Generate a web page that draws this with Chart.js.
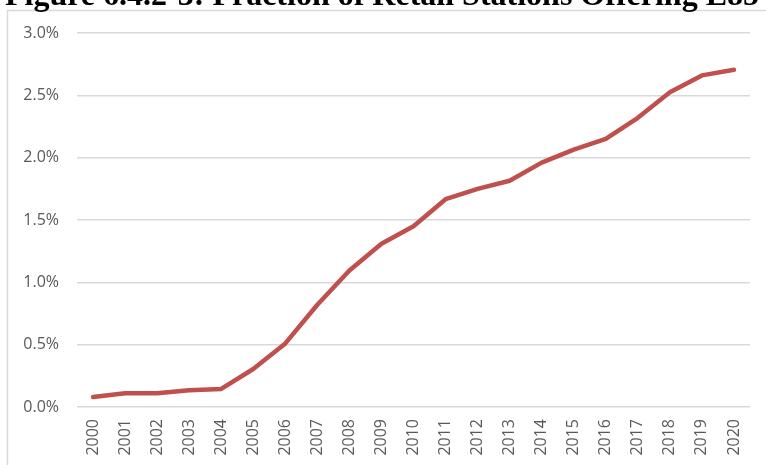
<!DOCTYPE html>
<html>
<head>
<meta charset="utf-8">
<script src="https://cdn.jsdelivr.net/npm/chart.js@4.4.1/dist/chart.umd.min.js"></script>
<style>
  html, body { margin: 0; padding: 0; background: #fff; }
  #wrap { position: relative; width: 766px; height: 465px; overflow: hidden; }
</style>
</head>
<body>
<div id="wrap"><canvas id="chart" width="766" height="465"></canvas></div>
<script>
// Fraction of retail stations offering E85, per year (percent)
const titleText = "Figure 6.4.2-3: Fraction of Retail Stations Offering E85";
const years = ["2000", "2001", "2002", "2003", "2004", "2005", "2006", "2007", "2008", "2009", "2010",
  "2011", "2012", "2013", "2014", "2015", "2016", "2017", "2018", "2019", "2020"];
const stationShare = [0.08, 0.11, 0.11, 0.135, 0.145, 0.305, 0.51, 0.82, 1.095, 1.31, 1.45,
  1.667, 1.75, 1.815, 1.96, 2.065, 2.15, 2.32, 2.525, 2.66, 2.705];
const yTicks = [0, 0.5, 1.0, 1.5, 2.0, 2.5, 3.0];

// cropped figure caption + chart frame, drawn behind the plot
const frameAndTitle = {
  id: "frameAndTitle",
  beforeDraw(chart) {
    const ctx = chart.ctx;
    ctx.save();
    ctx.fillStyle = "#fff";
    ctx.fillRect(0, 0, chart.width, chart.height);
    ctx.strokeStyle = "#d9d9d9";
    ctx.lineWidth = 1.5;
    ctx.beginPath();
    ctx.moveTo(7.5, chart.height + 5);
    ctx.lineTo(7.5, 10.5);
    ctx.lineTo(chart.width + 5, 10.5);
    ctx.stroke();
    ctx.fillStyle = "#000";
    ctx.font = "bold 32px 'Liberation Serif', 'Times New Roman', serif";
    ctx.textBaseline = "alphabetic";
    ctx.fillText(titleText, 5, 5);
    ctx.restore();
  },
};

const tickFont = { family: "'Open Sans', sans-serif", size: 16 };

new Chart(document.getElementById("chart"), {
  type: "line",
  data: {
    labels: years,
    datasets: [
      {
        data: stationShare,
        borderColor: "#c0504d",
        borderWidth: 4.5,
        borderCapStyle: "round",
        borderJoinStyle: "round",
        pointRadius: 0,
        tension: 0,
        fill: false,
      },
    ],
  },
  options: {
    responsive: false,
    animation: false,
    layout: { padding: { top: 33, right: 16, bottom: 0, left: 0 } },
    plugins: {
      legend: { display: false },
      tooltip: { enabled: false },
      title: { display: false },
    },
    scales: {
      x: {
        offset: true,
        grid: { display: false, drawTicks: false },
        border: { display: false },
        ticks: {
          font: tickFont,
          color: "#595959",
          minRotation: 90,
          maxRotation: 90,
          autoSkip: false,
          padding: 12,
        },
        afterFit: (scale) => { scale.height = 58; },
      },
      y: {
        min: 0,
        max: 3.0,
        afterBuildTicks: (scale) => { scale.ticks = yTicks.map((v) => ({ value: v })); },
        grid: { color: "#d9d9d9", lineWidth: 1.5, drawTicks: false },
        border: { display: false },
        ticks: {
          font: tickFont,
          color: "#595959",
          padding: 18,
          callback: (v) => v.toFixed(1) + "%",
        },
        afterFit: (scale) => { scale.width = 77; },
      },
    },
  },
  plugins: [frameAndTitle],
});
</script>
</body>
</html>
